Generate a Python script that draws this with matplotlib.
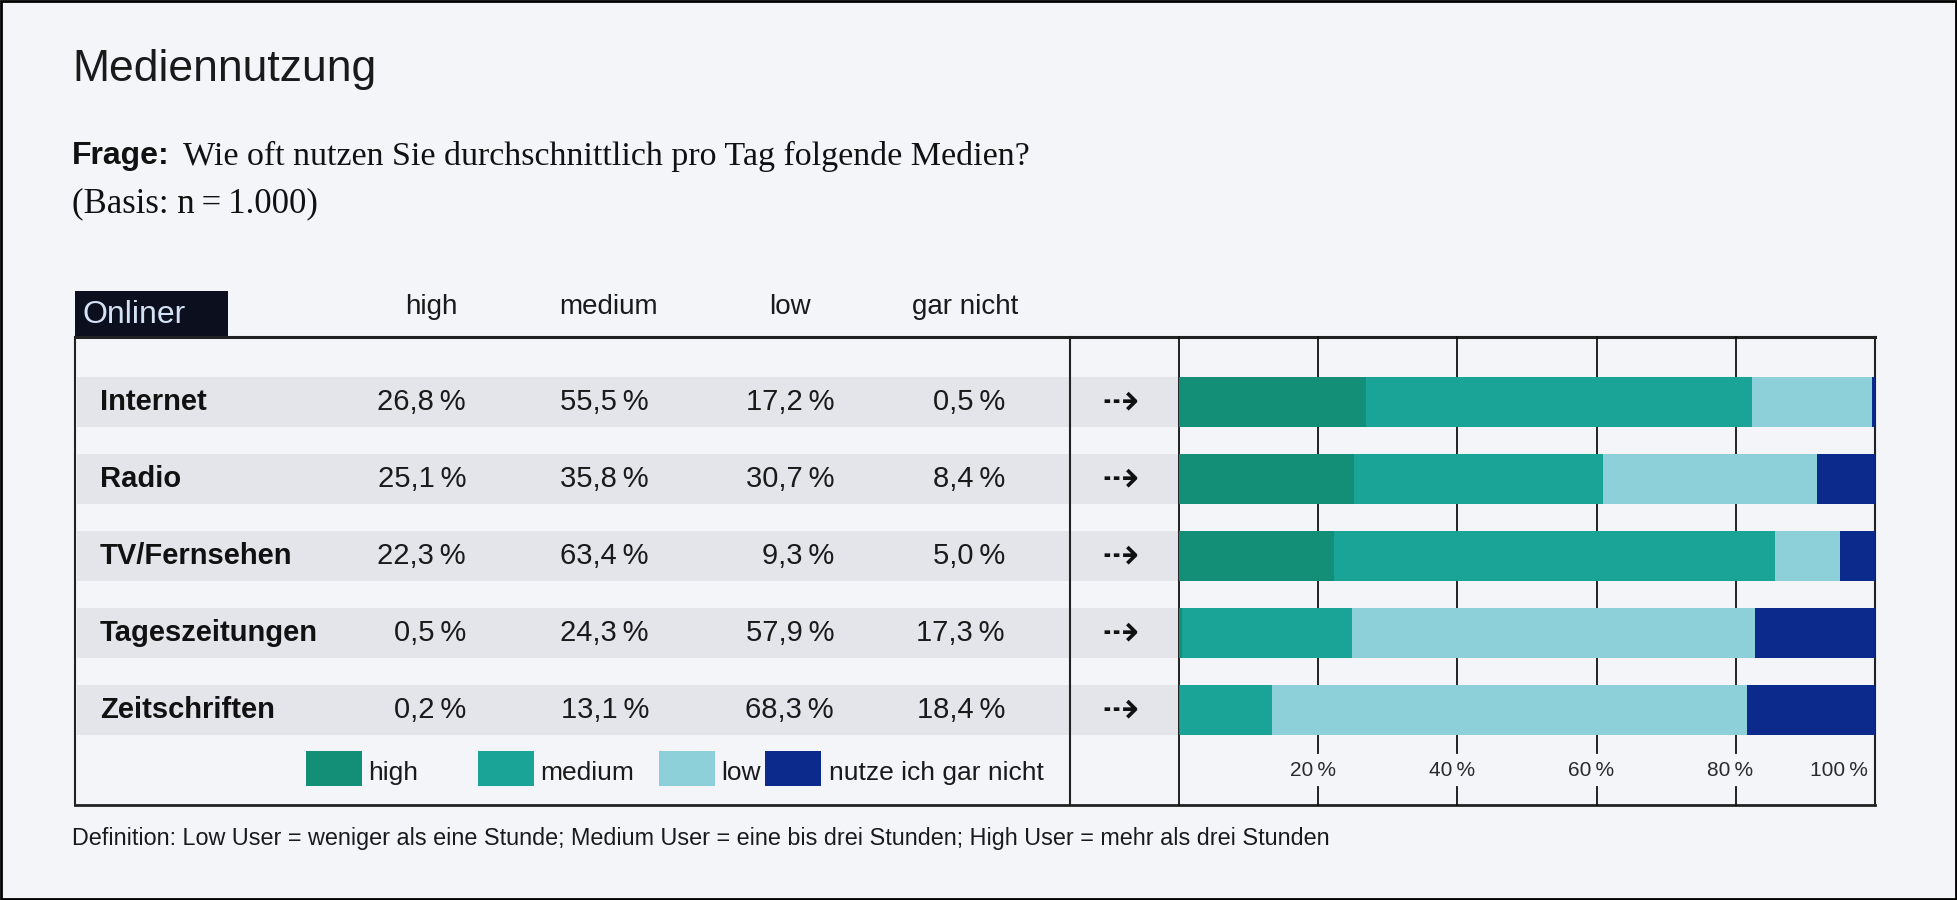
import matplotlib.pyplot as plt
import matplotlib.transforms as mtransforms
from matplotlib.patches import Rectangle

media = ["Internet", "Radio", "TV/Fernsehen", "Tageszeitungen", "Zeitschriften"]
high = [26.8, 25.1, 22.3, 0.5, 0.2]
medium = [55.5, 35.8, 63.4, 24.3, 13.1]
low = [17.2, 30.7, 9.3, 57.9, 68.3]
gar_nicht = [0.5, 8.4, 5.0, 17.3, 18.4]
columns = ["high", "medium", "low", "gar nicht"]
legend_labels = ["high", "medium", "low", "nutze ich gar nicht"]
ticks = [20, 40, 60, 80, 100]

colors = ["#138f78", "#19a497", "#8ed0d9", "#0b2a8c"]
band = "#e4e4eb"
sans = ["Liberation Sans", "DejaVu Sans"]
serif = ["Liberation Serif", "DejaVu Serif"]

W, H = 1957, 900
fig = plt.figure(figsize=(W / 100, H / 100), dpi=100)
fig.patch.set_facecolor("#f4f5f9")

# background axes in pixel units (y down)
bg = fig.add_axes([0, 0, 1, 1])
bg.set_xlim(0, W)
bg.set_ylim(H, 0)
bg.axis("off")
bg.add_patch(Rectangle((1, 1), W - 2, H - 2, fill=False, ec="black", lw=2))

# chart area
x0, x1, y0, y1 = 1179, 1875, 337, 805
ax = fig.add_axes([x0 / W, 1 - y1 / H, (x1 - x0) / W, (y1 - y0) / H])
ax.set_xlim(0, 100)
ax.set_ylim(4 + (805 - 710) / 77, -(402 - 337) / 77)
ax.axis("off")
tbl = mtransforms.blended_transform_factory(bg.transData, ax.transData)

rows = list(range(len(media)))
bh = 0.65

# gray row bands behind the table part
for i in rows:
    bg.add_patch(Rectangle((77, i - bh / 2), x0 - 77, bh, transform=tbl,
                           color=band, lw=0, zorder=0))

# stacked bars
left = [0.0] * len(media)
for vals, c in zip([high, medium, low, gar_nicht], colors):
    ax.barh(rows, vals, left=left, height=bh, color=c, zorder=3)
    left = [a + b for a, b in zip(left, vals)]

# grid lines, broken around the tick labels
ytop, ybot = ax.get_ylim()[1], ax.get_ylim()[0]
gap_a, gap_b = (753 - 402) / 77, (787 - 402) / 77
for t in [0] + ticks[:-1]:
    if t == 0:
        ax.plot([t, t], [ytop, ybot], color="#111111", lw=1.3, zorder=2, clip_on=False)
    else:
        ax.plot([t, t], [ytop, gap_a], color="#111111", lw=1.3, zorder=2, clip_on=False)
        ax.plot([t, t], [gap_b, ybot], color="#111111", lw=1.3, zorder=2, clip_on=False)
tick_y = (770 - 402) / 77
for t in ticks:
    if t == 100:
        ax.text(99, tick_y, f"{t}\u2009%", ha="right", va="center", fontsize=15,
                family=sans, color="#2a2a2a")
    else:
        ax.text(t - 0.8, tick_y, f"{t}\u2009%", ha="center", va="center", fontsize=15,
                family=sans, color="#2a2a2a")

# frame lines
bg.plot([75, 1875], [337, 337], color="#222222", lw=2.2)
bg.plot([75, 1875], [805, 805], color="#222222", lw=2.0)
bg.plot([75, 75], [337, 805], color="#222222", lw=1.5)
bg.plot([1875, 1875], [337, 805], color="#222222", lw=1.5)
bg.plot([1070, 1070], [337, 805], color="#222222", lw=1.5)

# Onliner box
bg.add_patch(Rectangle((75, 291), 153, 46, color="#0b0f1e", lw=0))
bg.text(82, 315, "Onliner", ha="left", va="center", fontsize=23, family=sans,
        color="#d3e2f5")

# column headers
head_x = [431, 609, 790, 965]
for x, name in zip(head_x, columns):
    bg.text(x, 307, name, ha="center", va="center", fontsize=20, family=sans,
            color="#1a1a1a")

# table values
val_x = [466, 649, 834, 1005]
for i in rows:
    bg.text(100, i, media[i], ha="left", va="center", fontsize=21, family=sans,
            fontweight="bold", color="#111111", transform=tbl)
    for x, series in zip(val_x, [high, medium, low, gar_nicht]):
        s = f"{series[i]:.1f}".replace(".", ",") + "\u2009%"
        bg.text(x, i, s, ha="right", va="center", fontsize=21, family=sans,
                color="#1a1a1a", transform=tbl)
    bg.text(1120, i, "\u21e2", ha="center", va="center", fontsize=32,
            family=["DejaVu Sans"], color="#111111", transform=tbl)

# legend
sw_x = [306, 478, 659, 765]
lab_x = [368, 540, 721, 829]
for sx, lx, c, lab in zip(sw_x, lab_x, colors, legend_labels):
    bg.add_patch(Rectangle((sx, 751), 56, 35, color=c, lw=0))
    bg.text(lx, 773, lab, ha="left", va="center", fontsize=19, family=sans,
            color="#1a1a1a")

# titles
bg.text(72, 70, "Mediennutzung", ha="left", va="center", fontsize=32, family=sans,
        color="#1a1a1a")
bg.text(72, 156, "Frage:", ha="left", va="center", fontsize=23, family=sans,
        fontweight="bold", color="#111111")
bg.text(183, 156, "Wie oft nutzen Sie durchschnittlich pro Tag folgende Medien?",
        ha="left", va="center", fontsize=24.5, family=serif, color="#111111")
bg.text(72, 204, "(Basis: n\u2009=\u20091.000)", ha="left", va="center", fontsize=25,
        family=serif, color="#111111")

bg.text(72, 839, "Definition: Low User = weniger als eine Stunde; Medium User = eine bis "
        "drei Stunden; High User = mehr als drei Stunden", ha="left", va="center",
        fontsize=16.8, family=sans, color="#1a1a1a")

fig.savefig("out.png", dpi=100, facecolor=fig.get_facecolor())
